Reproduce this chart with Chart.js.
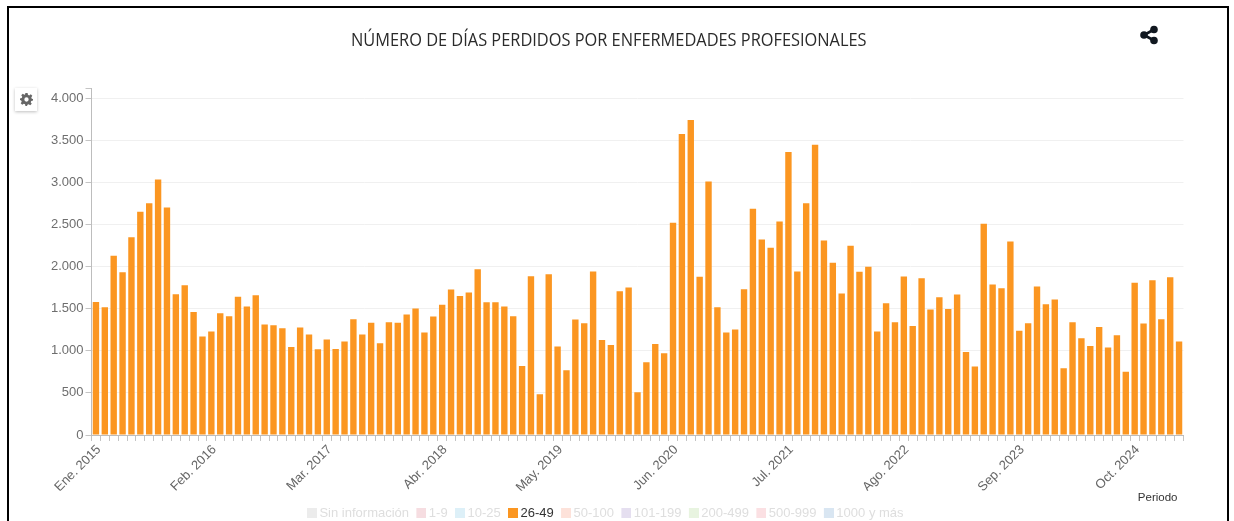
<!DOCTYPE html>
<html lang="es"><head><meta charset="utf-8">
<script src="https://cdn.jsdelivr.net/npm/chart.js@4"></script>
<style>
html,body{margin:0;padding:0;background:#fff;overflow:hidden}
#wrap{position:relative;width:1234px;height:521px}
canvas{position:absolute;left:0;top:0}
#frame{position:absolute;left:7px;top:6px;width:1218px;height:520px;border:2px solid #000;box-sizing:content-box}
#title{position:absolute;left:351px;top:28px;white-space:nowrap;font:500 18px "Open Sans",sans-serif;color:#2a2a2a;transform-origin:0 0;transform:scaleX(.909);line-height:22px}
#share{position:absolute;left:1139px;top:25px}
#gear{position:absolute;left:15px;top:88px;width:22px;height:23px;background:#fff;box-shadow:0 1px 3px rgba(0,0,0,.25);display:flex;align-items:center;justify-content:center}
</style></head><body>
<div id="wrap">
<canvas id="c" width="1234" height="521"></canvas>
<div id="frame"></div>
<div id="title">NÚMERO DE DÍAS PERDIDOS POR ENFERMEDADES PROFESIONALES</div>
<svg id="share" width="20" height="20" viewBox="0 0 20 20"><g fill="#111820"><circle cx="15" cy="4.500" r="3.800"/><circle cx="5" cy="10" r="3.800"/><circle cx="15" cy="15.500" r="3.800"/></g><path d="M15 4.500L5 10L15 15.500" stroke="#111820" stroke-width="2.600" fill="none"/></svg>
<div id="gear"><svg width="13" height="13" viewBox="0 0 24 24"><path fill="#666" fill-rule="evenodd" d="M10 0h4l.7 3.4 2.3 1 2.9-1.9 2.8 2.8-1.9 2.9 1 2.3L24 11v3l-3.2.7-1 2.3 1.9 2.9-2.8 2.8-2.9-1.9-2.3 1L13 24h-3l-.7-3.2-2.3-1-2.9 1.9-2.8-2.8L3.200 16l-1-2.300L0 13v-3l3.200-.7 1-2.300L2.300 4.100l2.800-2.800L8 3.200l1.300-.6zM12 8a4 4 0 100 8 4 4 0 000-8z"/></svg></div>
</div>
<script>
const monthNames = ["Ene.","Feb.","Mar.","Abr.","May.","Jun.","Jul.","Ago.","Sep.","Oct.","Nov.","Dic."];
const categories = [];
for (let i = 0; i < 123; i++) categories.push(monthNames[i % 12] + " " + (2015 + Math.floor(i / 12)));
const values2649 = [
1580,1517,2127,1933,2348,2650,2752,3034,2701,1671,1778,1461,1168,1228,1446,1410,1640,1525,1659,1311,
1303,1267,1046,1275,1192,1018,1133,1022,1109,1374,1192,1331,1089,1339,1331,1430,1501,1216,1406,1545,
1727,1651,1691,1968,1576,1576,1525,1410,820,1885,483,1909,1050,768,1370,1327,1941,1129,1069,1707,
1750,507,863,1081,970,2519,3572,3739,1877,3010,1517,1216,1251,1731,2685,2321,2222,2535,3358,1941,
2752,3446,2309,2044,1679,2246,1937,1996,1228,1564,1339,1881,1295,1861,1489,1636,1497,1667,986,812,
2507,1786,1743,2297,1236,1327,1762,1552,1608,792,1339,1149,1057,1283,1038,1184,752,1806,1323,1838,
1374,1873,1109];
const seriesNames = ["Sin información","1-9","10-25","26-49","50-100","101-199","200-499","500-999","1000 y más"];
const seriesColors = ["#ececec","#f6dde1","#ddf0f8","#fb9621","#fde2da","#e5dff0","#e8f4e0","#fbe0e3","#d9e6f2"];
const activeSeries = "26-49";
const axisTitle = "Periodo";
const yTicks = [0,500,1000,1500,2000,2500,3000,3500,4000];
const yTop = 4119;
const labelEvery = 13;

const fmt = v => String(v).replace(/\B(?=(\d{3})+$)/g, ".");
const FONT = "'Liberation Sans', Arial, sans-serif";

function swatch(color) {
  const c = document.createElement("canvas");
  c.width = 14; c.height = 10;
  const g = c.getContext("2d");
  g.fillStyle = color;
  g.fillRect(4, 0, 10, 10);
  return c;
}

const tweak = {
  id: "tweak",
  afterLayout(chart) {
    const L = chart.legend;
    const h = L.bottom - L.top;
    L.left += 13.5; L.right += 13.5;
    L.top = 499.2; L.bottom = 499.2 + h;
  },
  afterDraw(chart) {
    const g = chart.ctx;
    g.save();
    g.font = "11.5px " + FONT;
    g.fillStyle = "#333";
    g.textAlign = "right";
    g.textBaseline = "alphabetic";
    g.fillText(axisTitle, chart.chartArea.right - 6, 501);
    g.restore();
  }
};

function chartLegendHeight() {
  const ch = Chart.getChart("c");
  return ch && ch.legend ? ch.legend.height : 40;
}

new Chart(document.getElementById("c"), {
  type: "bar",
  data: {
    labels: categories,
    datasets: seriesNames.map((n, i) => ({
      label: n,
      data: n === activeSeries ? values2649 : [],
      backgroundColor: seriesColors[i],
      hidden: n !== activeSeries,
      grouped: false,
      barPercentage: 0.72,
      categoryPercentage: 1
    }))
  },
  plugins: [tweak],
  options: {
    responsive: false,
    animation: false,
    layout: { padding: { left: 0, right: 50.5, top: 88, bottom: 0 } },
    plugins: {
      title: { display: false },
      tooltip: { enabled: false },
      legend: {
        position: "bottom",
        onClick: null,
        labels: {
          usePointStyle: true, pointStyleWidth: 6, boxHeight: 10, padding: 7.3,
          font: { family: FONT, size: 13 },
          generateLabels: chart => chart.data.datasets.map((d, i) => ({
            text: d.label, fillStyle: d.backgroundColor, strokeStyle: d.backgroundColor,
            lineWidth: 0, datasetIndex: i, pointStyle: swatch(d.backgroundColor),
            fontColor: d.label === activeSeries ? "#333" : "#dedede"
          }))
        }
      }
    },
    scales: {
      x: {
        offset: true,
        afterFit(s) { s.height = 86 - chartLegendHeight(); },
        grid: { offset: true, drawOnChartArea: false, tickColor: "#c4c4c4", tickLength: 6 },
        border: { color: "#bdbdbd" },
        ticks: {
          autoSkip: false, minRotation: 45, maxRotation: 45, padding: 1, labelOffset: 3,
          color: "#666", font: { family: FONT, size: 13 },
          callback(v, i) { return i % labelEvery === 0 ? categories[i] : ""; }
        }
      },
      y: {
        min: 0, max: yTop,
        afterFit(s) { s.width = 91.5; },
        afterBuildTicks(s) { s.ticks = yTicks.concat([yTop]).map(v => ({ value: v })); },
        grid: {
          color: c => (c.tick && c.tick.value === yTop ? "rgba(0,0,0,0)" : "#f0f0f0"),
          tickColor: "#c4c4c4", tickLength: 6
        },
        border: { color: "#bdbdbd" },
        ticks: {
          padding: 2, color: "#6e6e6e", font: { family: FONT, size: 13 },
          callback: v => (v === yTop ? "" : fmt(v))
        }
      }
    }
  }
});
</script>
</body></html>
